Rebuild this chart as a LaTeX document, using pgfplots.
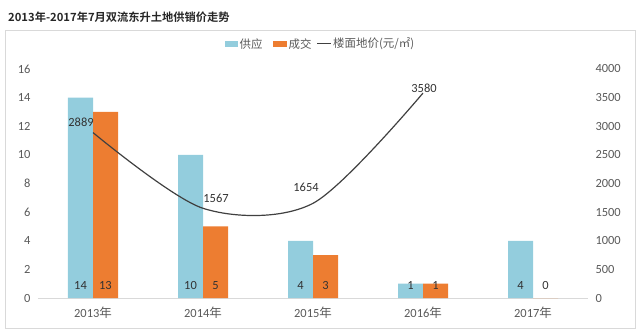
\documentclass[border=0pt]{standalone}
\usepackage{pgfplots}
\usepackage{pgfplotstable}
\pgfplotsset{compat=1.18}
\usepackage{fontspec}
\setmainfont{Carlito}
\newfontfamily\cjk{Noto Sans CJK SC}
\newfontfamily\cjkb{Noto Sans CJK SC Bold}
\definecolor{supply}{HTML}{93CDDD}
\definecolor{deal}{HTML}{ED7D31}
\definecolor{linec}{HTML}{404040}
\definecolor{tickc}{HTML}{595959}
\definecolor{framec}{HTML}{D9D9D9}
\pgfplotstableread{
x y
0 2889
1 1567
2 1654
3 3580
}\pricedata
\pgfplotstableread{
x y lab
-0.1136 0.84 14
0.1136 0.84 13
0.8864 0.84 10
1.1136 0.84 5
1.8864 0.84 4
2.1136 0.84 3
2.8864 0.84 1
3.1136 0.84 1
3.8864 0.84 4
4.1136 0.84 0
}\barlabels
\pgfplotsset{lbl/.style={draw=none, nodes near coords, point meta=explicit symbolic,
  nodes near coords style={anchor=center, font=\fontsize{12.5}{14}\selectfont, text=black!80, inner sep=0pt}}}
\begin{document}
\begin{tikzpicture}[x=1bp,y=1bp]
\useasboundingbox (-38,-36) rectangle (602,298);
\draw[color=framec, line width=0.8bp] (-33,-30) rectangle (597,268);
\node[anchor=west, font=\cjkb\fontsize{11.3}{13}\selectfont, text=black!85, inner sep=0] at (-30,281) {2013年-2017年7月双流东升土地供销价走势};
\begin{axis}[
  at={(0,0)}, anchor=south west,
  scale only axis, width=550bp, height=229bp,
  xmin=-0.5, xmax=4.5, ymin=0, ymax=16,
  ytick={0,2,...,16},
  xtick={0,...,4},
  xticklabels={2013{\cjk 年},2014{\cjk 年},2015{\cjk 年},2016{\cjk 年},2017{\cjk 年}},
  axis x line*=bottom, axis y line*=left,
  x axis line style={draw=framec, line width=0.8bp},
  y axis line style={draw=none},
  major tick length=0pt,
  tick label style={font=\fontsize{12.5}{14}\selectfont, text=tickc},
  /pgf/number format/assume math mode=true,
  yticklabel style={xshift=-4bp},
  xticklabel style={yshift=-5bp},
  clip=false,
]
\addplot[ybar, bar width=25bp, bar shift=-12.5bp, fill=supply, draw=none] coordinates {(0,14) (1,10) (2,4) (3,1) (4,4)};
\addplot[ybar, bar width=25bp, bar shift=12.5bp, fill=deal, draw=none] coordinates {(0,13) (1,5) (2,3) (3,1) (4,0)};
\addplot[lbl] table[x=x, y=y, meta=lab]{\barlabels};
\end{axis}
\begin{axis}[
  at={(0,0)}, anchor=south west,
  scale only axis, width=550bp, height=229bp,
  xmin=-0.5, xmax=4.5, ymin=0, ymax=4000,
  ytick={0,500,...,4000},
  axis y line*=right, axis x line=none,
  y axis line style={draw=none},
  major tick length=0pt,
  tick label style={font=\fontsize{12.5}{14}\selectfont, text=tickc},
  /pgf/number format/assume math mode=true,
  /pgf/number format/set thousands separator={},
  yticklabel style={xshift=4bp},
  clip=false,
]
\addplot[smooth, tension=0.5, color=linec, line width=1.2bp] table[x=x, y=y]{\pricedata};
\addplot[lbl, nodes near coords style={xshift=-12bp, yshift=10bp}] coordinates {(0,2889) [2889]};
\addplot[lbl, nodes near coords style={xshift=13bp, yshift=10bp}] coordinates {(1,1567) [1567]};
\addplot[lbl, nodes near coords style={xshift=-7bp, yshift=16bp}] coordinates {(2,1654) [1654]};
\addplot[lbl, nodes near coords style={xshift=1bp, yshift=5bp}] coordinates {(3,3580) [3580]};
\end{axis}
% legend
\fill[supply] (187,251) rectangle (200,257);
\node[anchor=west, inner sep=0, font=\cjk\fontsize{11.5}{14}\selectfont, text=tickc] at (201.5,254) {供应};
\fill[deal] (235,251) rectangle (249,257);
\node[anchor=west, inner sep=0, font=\cjk\fontsize{11.5}{14}\selectfont, text=tickc] at (250.5,254) {成交};
\draw[linec, line width=1.2bp] (279,254.5) -- (293,254.5);
\node[anchor=west, inner sep=0, font=\cjk\fontsize{11.5}{14}\selectfont, text=tickc] at (295,254) {楼面地价(元/㎡)};
\end{tikzpicture}
\end{document}
